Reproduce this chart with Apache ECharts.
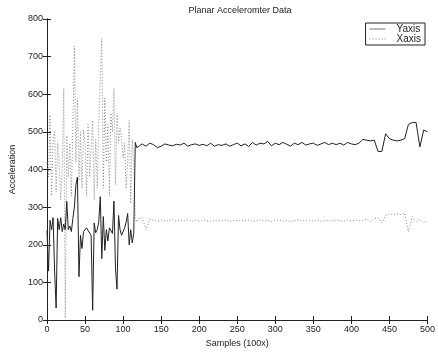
<!DOCTYPE html>
<html>
<head>
<meta charset="utf-8">
<script src="https://cdn.jsdelivr.net/npm/echarts@6/dist/echarts.min.js"></script>
<style>
  html, body { margin: 0; padding: 0; background: #fff; }
  #chart { width: 438px; height: 353px; }
</style>
</head>
<body>
<div id="chart"></div>
<script>
// sample index (x100) for each reading
const samples = [
  0, 2, 4, 6, 8, 10, 12, 14, 16, 18, 20, 22, 24, 26, 28, 30, 32, 34, 36, 38,
  40, 42, 44, 46, 48, 50, 52, 54, 56, 58, 60, 62, 64, 66, 68, 70, 72, 74, 76, 78,
  80, 82, 84, 86, 88, 90, 92, 94, 96, 98, 100, 102, 104, 106, 108, 110, 112, 114, 116, 118,
  120, 125, 130, 135, 140, 145, 150, 155, 160, 165, 170, 175, 180, 185, 190, 195, 200, 205, 210, 215,
  220, 225, 230, 235, 240, 245, 250, 255, 260, 265, 270, 275, 280, 285, 290, 295, 300, 305, 310, 315,
  320, 325, 330, 335, 340, 345, 350, 355, 360, 365, 370, 375, 380, 385, 390, 395, 400, 405, 410, 415,
  420, 425, 430, 435, 440, 445, 450, 455, 460, 465, 470, 475, 480, 485, 490, 495, 500
];

const yAxisValues = [
  238, 130, 265, 240, 272, 130, 32, 270, 240, 272, 235, 255, 240, 315, 240, 250, 235, 270, 300, 360,
  380, 115, 225, 190, 235, 240, 245, 238, 240, 225, 26, 258, 232, 240, 260, 328, 163, 275, 185, 240,
  210, 245, 250, 230, 316, 135, 82, 278, 240, 225, 230, 245, 260, 283, 200, 240, 205, 230, 472, 458,
  462, 468, 462, 470, 466, 458, 462, 468, 465, 463, 467, 465, 470, 462, 466, 468, 464, 467, 463, 470,
  462, 466, 464, 468, 462, 466, 470, 463, 468, 461, 472, 465, 470, 468, 475, 463, 470, 466, 472, 467,
  462, 470, 466, 472, 465, 468, 470, 464, 468, 472, 466, 470, 466, 470, 465, 472, 468, 466, 470, 480,
  478, 476, 478, 448, 448, 495, 482, 478, 476, 478, 482, 520, 525, 525, 460, 505, 500
];

const xAxisValues = [
  420, 380, 545, 330, 480, 500, 340, 470, 420, 320, 400, 615, 5, 490, 380, 470, 330, 510, 728, 420,
  590, 370, 500, 350, 505, 470, 330, 520, 380, 460, 530, 320, 480, 350, 520, 640, 748, 350, 590, 420,
  520, 330, 550, 500, 615, 360, 550, 470, 510, 480, 430, 470, 350, 420, 530, 310, 480, 420, 270, 260,
  268, 272, 240, 268, 265, 262, 266, 264, 263, 267, 262, 265, 264, 266, 262, 265, 263, 266, 264, 262,
  265, 263, 264, 266, 262, 264, 265, 263, 264, 266, 262, 264, 266, 263, 265, 262, 264, 266, 263, 265,
  262, 264, 266, 263, 265, 264, 263, 266, 262, 264, 265, 263, 266, 264, 262, 265, 263, 266, 264, 265,
  268, 262, 270, 272, 258, 278, 282, 280, 283, 280, 284, 235, 275, 262, 268, 258, 265
];

const yTicks = [0, 100, 200, 300, 400, 500, 600, 700, 800];
const xTicks = [0, 50, 100, 150, 200, 250, 300, 350, 400, 450, 500];

const chart = echarts.init(document.getElementById("chart"), null, { renderer: "canvas" });

const font = "Liberation Sans";
const ink = "#222";
const solidIcon = "path://M0,0H16V1H0Z";
const dottedIcon = "path://M0,0h1v1h-1z M3,0h1v1h-1z M6,0h1v1h-1z M9,0h1v1h-1z M12,0h1v1h-1z M15,0h1v1h-1z";

function tick() {
  return { show: true, inside: true, length: 4, lineStyle: { color: ink, width: 1 } };
}

chart.setOption({
  backgroundColor: "#fff",
  animation: false,
  title: {
    text: "Planar Acceleromter Data",
    left: 235,
    top: 1,
    textAlign: "center",
    textStyle: { fontFamily: font, fontSize: 9, fontWeight: "normal", color: ink },
  },
  legend: {
    orient: "vertical",
    right: 13,
    top: 23,
    itemGap: 0,
    itemWidth: 16,
    itemHeight: 1,
    padding: [1, 4, 1, 4],
    borderColor: ink,
    borderWidth: 1,
    borderRadius: 0,
    backgroundColor: "#fff",
    align: "left",
    textStyle: { fontFamily: font, fontSize: 10, color: ink, padding: [0, 0, 0, 6] },
    data: [
      { name: "Yaxis", icon: solidIcon, itemStyle: { color: "#777" } },
      { name: "Xaxis", icon: dottedIcon, itemStyle: { color: "#777" } },
    ],
  },
  grid: { left: 41, right: 9, top: 19, bottom: 29 },
  xAxis: [
    {
      type: "value",
      min: 0,
      max: 500,
      interval: 50,
      name: "Samples (100x)",
      nameLocation: "middle",
      nameGap: 19,
      nameTextStyle: { fontFamily: font, fontSize: 9, color: ink },
      axisLine: { lineStyle: { color: ink, width: 1 } },
      axisTick: tick(),
      axisLabel: {
        fontFamily: font,
        fontSize: 9,
        color: ink,
        margin: 5,
        formatter: (v) => (xTicks.includes(v) ? String(v) : ""),
      },
      splitLine: { show: false },
    },
    {
      type: "value",
      position: "top",
      min: 0,
      max: 500,
      interval: 50,
      axisLine: { show: true, lineStyle: { color: ink, width: 1 } },
      axisTick: tick(),
      axisLabel: { show: false },
      splitLine: { show: false },
    },
  ],
  yAxis: [
    {
      type: "value",
      min: 0,
      max: 800,
      interval: 100,
      name: "Acceleration",
      nameLocation: "middle",
      nameGap: 30,
      nameTextStyle: { fontFamily: font, fontSize: 9, color: ink },
      axisLine: { show: true, lineStyle: { color: ink, width: 1 } },
      axisTick: tick(),
      axisLabel: {
        fontFamily: font,
        fontSize: 9,
        color: ink,
        margin: 4,
        formatter: (v) => (yTicks.includes(v) ? String(v) : ""),
      },
      splitLine: { show: false },
    },
    {
      type: "value",
      position: "right",
      min: 0,
      max: 800,
      interval: 100,
      axisLine: { show: true, lineStyle: { color: ink, width: 1 } },
      axisTick: tick(),
      axisLabel: { show: false },
      splitLine: { show: false },
    },
  ],
  series: [
    {
      name: "Yaxis",
      type: "line",
      symbol: "none",
      data: samples.map((s, i) => [s, yAxisValues[i]]),
      lineStyle: { color: ink, width: 1 },
      itemStyle: { color: ink },
      z: 3,
    },
    {
      name: "Xaxis",
      type: "line",
      symbol: "none",
      data: samples.map((s, i) => [s, xAxisValues[i]]),
      lineStyle: { color: "#888", width: 1, type: [1, 2] },
      itemStyle: { color: "#888" },
      z: 2,
    },
  ],
});
</script>
</body>
</html>
